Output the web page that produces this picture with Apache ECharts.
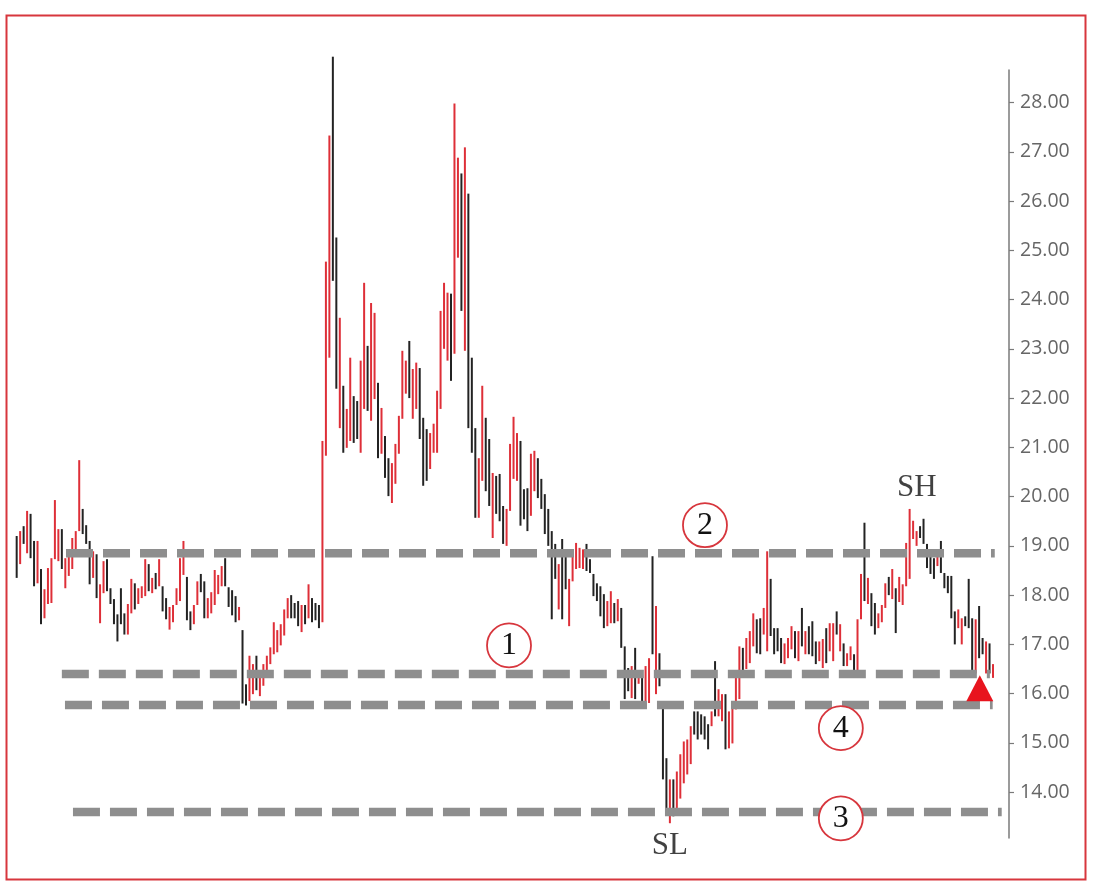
<!DOCTYPE html>
<html>
<head>
<meta charset="utf-8">
<script src="https://cdn.jsdelivr.net/npm/echarts@6/dist/echarts.min.js"></script>
<style>
html,body{margin:0;padding:0;background:#fff;}
#c{width:1098px;height:885px;}
</style>
</head>
<body>
<div id="c"></div>
<script>
// ---- Data: one entry per trading bar (high, low, colour R=red / B=black) ----
const highs = [
19.20,19.30,19.40,19.71,19.65,19.10,19.10,18.53,18.12,18.55,
18.75,19.93,19.34,19.34,18.75,18.89,19.16,19.30,20.74,19.75,
19.42,19.10,18.89,18.83,18.22,18.69,18.73,18.14,17.92,17.61,
18.14,17.63,17.82,18.33,18.24,18.14,18.18,18.73,18.63,18.35,
18.45,18.73,18.18,17.94,17.76,
17.80,18.14,18.75,19.10,18.37,17.67,17.80,18.28,18.43,18.28,
17.94,18.06,18.51,18.41,18.59,18.75,18.16,18.10,17.98,17.76,
17.29,16.19,16.77,16.60,16.77,16.46,16.60,16.77,16.94,17.45,
17.29,17.41,17.71,17.94,18.00,17.84,17.88,17.80,17.80,18.22,
17.94,17.84,17.80,21.13,24.77,27.33,28.93,
25.26,23.63,22.25,21.78,22.82,22.04,21.94,22.76,24.34,23.06,
23.93,23.73,22.31,21.80,21.23,20.78,20.68,21.07,21.64,22.96,
22.76,23.16,22.59,22.72,22.61,21.60,21.37,21.29,21.48,22.15,
23.77,24.34,24.14,24.12,27.98,26.88,26.56,27.09,26.15,22.82,
21.39,20.78,22.25,21.60,21.17,20.48,20.42,20.46,
19.81,19.75,21.07,21.62,21.29,21.13,20.15,20.17,20.87,20.93,
20.78,20.36,20.05,19.75,19.30,19.04,18.63,19.14,18.79,18.33,
18.93,19.06,18.96,18.93,19.04,18.73,18.43,18.24,18.18,18.02,
17.88,18.08,17.84,17.92,17.74,16.96,16.52,16.56,16.93,16.46,
16.39,16.56,16.72,18.79,17.78,16.82,
15.85,14.69,14.26,14.26,14.42,14.77,15.03,15.07,15.34,15.64,
15.64,15.58,15.54,15.38,15.64,16.66,16.09,15.99,15.99,15.64,
15.74,16.39,16.96,16.93,17.13,17.27,17.63,17.51,17.53,17.74,
18.89,18.33,17.33,17.33,17.13,17.02,17.13,17.37,17.27,17.27,
17.74,17.27,17.37,17.47,17.06,17.06,17.11,17.33,17.43,17.43,
17.67,17.41,17.02,16.82,16.96,16.80,17.51,18.43,19.47,18.35,
18.04,17.84,17.63,17.80,18.24,18.37,18.53,18.14,18.37,18.22,
19.06,19.75,19.51,19.30,19.40,19.55,19.04,18.83,18.75,18.93,
19.10,18.45,18.39,18.39,17.67,17.71,17.53,17.57,18.33,17.53,
17.51,17.78,17.13,17.06,17.02,16.60
];
const lows = [
18.35,18.63,19.04,18.85,18.75,18.18,18.24,17.41,17.53,17.82,
17.84,18.73,18.69,18.53,18.14,18.39,18.53,18.89,19.30,19.24,
19.04,18.22,18.35,17.94,17.43,18.04,18.08,17.82,17.41,17.06,
17.41,17.20,17.20,17.63,17.71,17.82,17.94,17.98,18.08,18.04,
18.12,18.18,17.67,17.51,17.30,
17.45,17.80,17.88,18.41,17.49,17.29,17.41,17.80,18.06,17.53,
17.53,17.63,17.80,18.02,18.18,18.18,17.76,17.59,17.45,17.49,
15.80,15.76,15.85,15.99,16.07,15.95,16.16,16.46,16.60,16.80,
16.84,16.98,17.18,17.53,17.53,17.53,17.37,17.25,17.41,17.53,
17.45,17.49,17.33,17.45,20.83,22.82,24.38,
22.19,21.39,20.89,20.99,21.13,21.09,21.17,20.89,21.78,21.74,
21.54,21.98,20.78,20.87,20.38,20.01,19.87,20.26,20.87,21.58,
22.09,22.00,21.58,21.78,21.17,20.22,20.32,20.56,20.89,20.89,
21.78,23.00,22.76,22.35,22.90,24.85,23.77,22.96,21.39,20.89,
19.57,19.57,20.32,20.11,19.81,19.16,19.65,19.50,
19.04,19.00,19.71,20.36,20.32,19.41,19.54,19.30,19.61,20.11,
19.97,19.75,19.24,19.00,17.51,18.33,17.71,17.51,18.12,17.37,
18.28,18.53,18.55,18.53,18.49,18.45,17.98,17.88,17.57,17.33,
17.37,17.43,17.43,17.47,16.93,15.89,16.05,15.91,15.89,16.20,
15.85,15.70,15.81,16.80,15.99,16.15,
14.26,13.55,13.37,13.51,13.61,13.87,14.18,14.36,14.57,15.17,
15.07,15.17,15.07,14.87,15.34,15.54,15.54,15.44,14.87,14.89,
14.99,15.68,15.89,16.39,16.50,16.62,16.96,16.82,16.80,17.20,
16.86,17.17,16.80,16.86,16.62,16.60,16.72,16.90,16.72,16.66,
16.96,16.80,16.80,16.76,16.60,16.66,16.52,16.62,16.86,16.66,
17.20,16.86,16.56,16.56,16.68,16.46,16.46,17.51,17.88,17.82,
17.37,17.20,17.33,17.45,17.74,18.00,17.92,17.23,17.86,17.80,
18.18,18.33,19.14,19.00,19.16,19.04,18.55,18.43,18.33,18.59,
18.45,18.14,18.04,17.53,17.00,17.33,17.00,17.37,17.33,16.41,
16.41,16.72,16.80,16.41,16.41,16.32
];
const barColors = [
'B','R','B','R','B','B','R','B','R','R','R','R','R','B','R','R','R','R','R','B',
'B','B','R','B','R','R','B','B','B','B','B','B','R','R','B','R','R','R','B','R',
'B','R','B','B','R',
'R','R','R','R','B','B','R','R','B','B','R','R','R','R','R','B','B','B','B','R',
'B','B','R','R','B','R','R','R','R','R','R','R','R','R','B','B','B','R','B','R',
'B','B','B','R','R','R','B',
'B','R','B','R','R','B','B','R','R','B','R','R','B','R','B','B','R','R','R','R',
'R','B','R','R','B','B','B','R','R','R','R','R','R','B','R','R','B','R','B','B',
'B','R','R','B','B','R','B','B',
'B','R','R','R','R','B','B','B','R','R','B','B','B','B','B','B','R','B','B','R',
'R','R','R','R','B','B','B','B','B','B','R','R','B','R','B','B','B','R','B','R',
'B','R','R','B','R','B',
'B','B','R','B','R','R','R','R','R','B','B','B','B','B','R','B','R','R','B','R',
'R','R','R','B','R','R','R','B','B','R','R','B','B','B','B','R','R','R','B','R',
'B','R','B','B','B','R','R','B','R','R','B','R','B','R','R','B','R','R','B','R',
'B','B','R','R','R','B','R','B','R','R','R','R','R','R','B','B','B','B','B','R',
'B','B','B','B','B','R','R','B','B','B','R','B','B','R','B','R'
];
// Horizontal support / resistance levels: [startIndex, endIndex, price]
const levelLines = [
  [14.2, 281.5, 18.85],  // 2
  [13.0, 280.1, 16.40],  // 1
  [13.9, 280.9, 15.77],  // 4
  [16.2, 283.5, 13.60]   // 3
];
// Circled number labels: [index, price, text]
const circleLabels = [[141.7, 16.98, '1'], [198.1, 19.42, '2'], [237.2, 13.47, '3'], [237.2, 15.30, '4']];
// Text labels: [index, price, text]
const textLabels = [[259.1, 20.17, 'SH'], [188.0, 12.92, 'SL']];
// Signal triangle: [index, price]
const signalMarks = [[277.2, 16.11]];
// Axis tick labels
const yTicks = [14,15,16,17,18,19,20,21,22,23,24,25,26,27,28];

const RED = '#de2f38', BLACK = '#232323';
const barData = highs.map((h, i) => [i, h, lows[i], barColors[i] === 'R' ? 1 : 0]);

const chart = echarts.init(document.getElementById('c'), null, {renderer: 'canvas'});
const serif = '"Liberation Serif", "DejaVu Serif", serif';

chart.setOption({
  animation: false,
  backgroundColor: '#ffffff',
  grid: {left: 13.2, right: 89, top: 70, bottom: 47},
  xAxis: {type: 'value', min: -1, max: 285.6, show: false},
  yAxis: {
    type: 'value', position: 'right', min: 13.07, max: 28.66,
    splitLine: {show: false},
    axisLine: {show: true, onZero: false, lineStyle: {color: '#7a7a7a', width: 1.5}},
    axisTick: {show: true, customValues: yTicks, length: 5, lineStyle: {color: '#7a7a7a', width: 1.2}},
    axisLabel: {
      customValues: yTicks, margin: 11,
      color: '#666666', fontSize: 19.5, fontFamily: '"Open Sans", "Noto Sans", sans-serif',
      formatter: v => v.toFixed(2)
    }
  },
  graphic: [{
    type: 'rect', left: 4, top: 13, silent: true, z: 100,
    shape: {width: 1079, height: 864},
    style: {fill: 'none', stroke: '#d7363d', lineWidth: 2}
  }],
  series: [
    {
      type: 'custom', clip: false, z: 2,
      data: barData,
      renderItem: (params, api) => {
        const x = api.value(0);
        const p1 = api.coord([x, api.value(1)]);
        const p2 = api.coord([x, api.value(2)]);
        return {
          type: 'line',
          shape: {x1: p1[0], y1: p1[1], x2: p2[0], y2: p2[1]},
          style: {stroke: api.value(3) ? RED : BLACK, lineWidth: 2}
        };
      }
    },
    ...levelLines.map(l => ({
      type: 'line', z: 3, silent: true, symbol: 'none', clip: false,
      data: [[l[0], l[2]], [l[1], l[2]]],
      lineStyle: {color: '#8e8e8e', width: 8.5, type: [27, 10], cap: 'butt'}
    })),
    {
      type: 'scatter', z: 5, silent: true, clip: false,
      data: circleLabels.map(c => ({value: [c[0], c[1]], name: c[2]})),
      symbol: 'circle', symbolSize: 44,
      itemStyle: {color: '#ffffff', opacity: 1, borderColor: '#d7363d', borderWidth: 1.8},
      label: {show: true, position: 'inside', formatter: p => p.name,
        color: '#111111', fontSize: 32, fontFamily: serif}
    },
    {
      type: 'scatter', z: 5, silent: true, clip: false,
      data: textLabels.map(c => ({value: [c[0], c[1]], name: c[2]})),
      symbol: 'circle', symbolSize: 1, itemStyle: {color: 'rgba(0,0,0,0)'},
      label: {show: true, position: 'inside', formatter: p => p.name,
        color: '#111111', fontSize: 31, fontFamily: serif}
    },
    {
      type: 'scatter', z: 6, silent: true, clip: false,
      data: signalMarks,
      symbol: 'triangle', symbolSize: [27, 26],
      itemStyle: {color: '#e8141e', opacity: 1}
    }
  ]
});
</script>
</body>
</html>
